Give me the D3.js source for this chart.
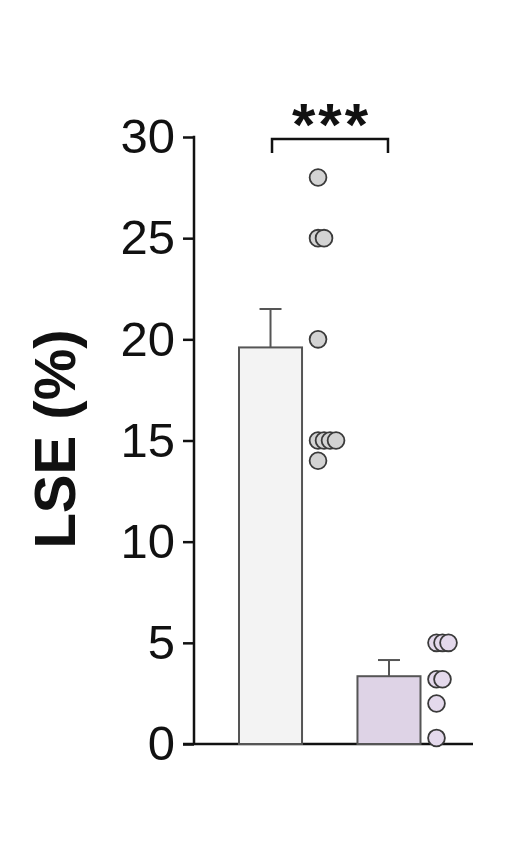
<!DOCTYPE html>
<html lang="en">
<head>
<meta charset="UTF-8">
<title>LSE (%)</title>
<script src="https://d3js.org/d3.v7.min.js"></script>
<style>
    body { margin: 0; background: #fff; }
    svg { display: block; font-family: "Liberation Sans", Arial, sans-serif; }
    .axis path, .axis line { stroke: #111; stroke-width: 2.5; }
    .axis text { font-size: 49px; fill: #111; }
</style>
</head>
<body>
<div id="chart"></div>
<script>
// data
const groups = ["Control", "Treated"];
const means = [19.6, 3.35];
const sems = [1.9, 0.8];
const points = [
    [28, 25, 25, 20, 15, 15, 15, 15, 14],
    [5, 5, 5, 3.2, 3.2, 2, 0.3]
];
const yTicks = [0, 5, 10, 15, 20, 25, 30];
const barFills = ["#f3f3f3", "#ded3e6"];
const dotFills = ["#d3d3d3", "#e4d9ec"];

const W = 525, H = 853;
const svg = d3.select("#chart").append("svg")
    .attr("width", W).attr("height", H);

const y = d3.scaleLinear().domain([0, 30]).range([744, 137]);
const x = d3.scaleBand().domain(groups)
    .range([239, 420.5])
    .paddingInner(0.468)
    .paddingOuter(0);

// y axis
const axisX = 194;
svg.append("g")
    .attr("class", "axis")
    .attr("transform", `translate(${axisX},0)`)
    .call(d3.axisLeft(y).tickValues(yTicks).tickSize(11).tickSizeOuter(0).tickPadding(8))
    .call(g => g.select(".domain").remove());
svg.append("line")
    .attr("x1", axisX).attr("x2", axisX)
    .attr("y1", y(30) - 1.2).attr("y2", y(0))
    .attr("stroke", "#111").attr("stroke-width", 2.5);

// x axis line
svg.append("line")
    .attr("x1", axisX - 11).attr("x2", 473)
    .attr("y1", y(0)).attr("y2", y(0))
    .attr("stroke", "#111").attr("stroke-width", 2.5);

// y label
svg.append("text")
    .attr("transform", `translate(75,${439}) rotate(-90)`)
    .attr("text-anchor", "middle")
    .attr("font-size", "58px")
    .attr("font-weight", "bold")
    .attr("fill", "#111")
    .text("LSE (%)");

// bars
svg.selectAll(".bar")
    .data(groups)
    .enter().append("rect")
    .attr("class", "bar")
    .attr("x", d => x(d))
    .attr("width", x.bandwidth())
    .attr("y", (d, i) => y(means[i]))
    .attr("height", (d, i) => y(0) - y(means[i]))
    .attr("fill", (d, i) => barFills[i])
    .attr("stroke", "#555")
    .attr("stroke-width", 2);

// error bars
groups.forEach((g, i) => {
    const cx = x(g) + x.bandwidth() / 2;
    svg.append("line")
        .attr("x1", cx).attr("x2", cx)
        .attr("y1", y(means[i])).attr("y2", y(means[i] + sems[i]))
        .attr("stroke", "#555").attr("stroke-width", 2);
    svg.append("line")
        .attr("x1", cx - 11).attr("x2", cx + 11)
        .attr("y1", y(means[i] + sems[i])).attr("y2", y(means[i] + sems[i]))
        .attr("stroke", "#555").attr("stroke-width", 2);
});

// individual points, repeated values nudged right
groups.forEach((g, i) => {
    const seen = {};
    const pts = points[i].map(v => {
        const k = seen[v] || 0;
        seen[v] = k + 1;
        return { v, k };
    });
    const x0 = x(g) + x.bandwidth() + 16;
    svg.selectAll(".dot-" + i)
        .data(pts)
        .enter().append("circle")
        .attr("cx", d => x0 + d.k * 6)
        .attr("cy", d => y(d.v))
        .attr("r", 8.4)
        .attr("fill", dotFills[i])
        .attr("stroke", "#3a3a3a")
        .attr("stroke-width", 1.8);
});

// significance bracket
const c1 = x(groups[0]) + x.bandwidth() / 2 + 1.5;
const c2 = x(groups[1]) + x.bandwidth() / 2 - 1;
const spacing = 3;
svg.append("path")
    .attr("d", `M${c1},153 V139 H${c2} V153`)
    .attr("fill", "none")
    .attr("stroke", "#111")
    .attr("stroke-width", 2.5);
svg.append("text")
    .attr("x", (c1 + c2) / 2 + spacing / 2)
    .attr("y", 145)
    .attr("text-anchor", "middle")
    .attr("font-size", "60px")
    .attr("font-weight", "bold")
    .attr("letter-spacing", spacing + "px")
    .attr("fill", "#111")
    .text("***");
</script>
</body>
</html>
